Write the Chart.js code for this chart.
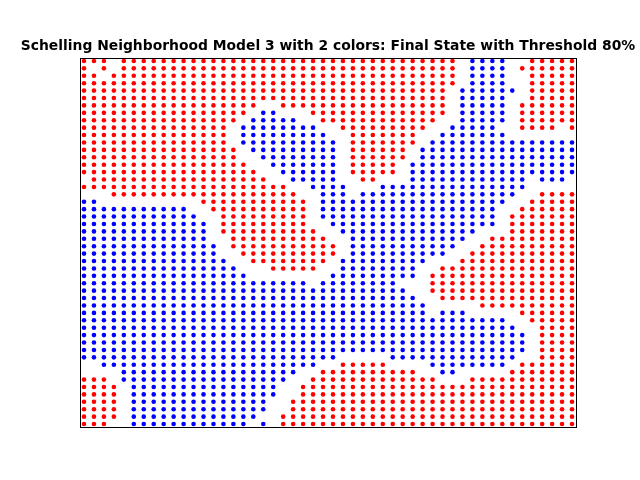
<!DOCTYPE html>
<html>
<head>
<meta charset="utf-8">
<script src="https://cdn.jsdelivr.net/npm/chart.js@4"></script>
<style>
html,body{margin:0;padding:0;background:#fff;}
#wrap{width:640px;height:480px;position:relative;}
</style>
</head>
<body>
<div id="wrap"><canvas id="c" width="640" height="480"></canvas></div>
<script>
// Final grid state, one string per row (top row first), "|" separates column groups 0-16, 17-33, 34-49
// R = red agent, B = blue agent, . = empty
const gridRows = [
"RRR.RRRRRRRRRRRRR|RRRRRRRRRRRRRRRRR|RRRR.BBBB..RRRRR",
"R.R.RRRRRRRRRRRRR|RRRRRRRRRRRRRRRRR|RRRR.BBBB.RRRRRR",
"RR.RRRRRRRRRRRRRR|RRRRRRRRRRRRRRRRR|RRRR.BBBB..RRRRR",
"RRRRRRRRRRRRRRRRR|RRRRRRRRRRRRRRRRR|RRRR.BBBB..RRRRR",
"RRRRRRRRRRRRRRRRR|RRRRRRRRRRRRRRRRR|RRR.BBBBBB.RRRRR",
"RRRRRRRRRRRRRRRRR|RRRRRRRRRRRRRRRRR|RRR.BBBBB..RRRRR",
"RRRRRRRRRRRRRRRRR|R..RRRRRRRRRRRRRR|RRR.BBBBB.RRRRRR",
"RRRRRRRRRRRRRRRRR|.BB...RRRRRRRRRRR|RRR.BBBBB.RRRRRR",
"RRRRRRRRRRRRRRRR.|BBBBB..RRRRRRRRRR|RR..BBBBB.RRRRRR",
"RRRRRRRRRRRRRRR.B|BBBBBBB..RRRRRRRR|R..BBBBB..RRRR.R",
"RRRRRRRRRRRRRRR.B|BBBBBBBB..RRRRRRR|..BBBBBBB.......",
"RRRRRRRRRRRRRRR.B|BBBBBBBBB.RRRRRRR|.BBBBBBBBBBBBBBB",
"RRRRRRRRRRRRRRRR.|BBBBBBBBB.RRRRRR.|BBBBBBBBBBBBBBBB",
"RRRRRRRRRRRRRRRR.|.BBBBBBBB.RRRRRR.|BBBBBBBBBBBBBBBB",
"RRRRRRRRRRRRRRRRR|..BBBBBBB.RRRRR.B|BBBBBBBBBBBBBBBB",
"RRRRRRRRRRRRRRRRR|R..BBBBBB.RRRRR.B|BBBBBBBBBBBBBBBB",
".RRRRRRRRRRRRRRRR|RR..BBBBB..RR...B|BBBBBBBBBBB.BBB.",
"RRRRRRRRRRRRRRRRR|RRRR..BBBB...BBBB|BBBBBBBBBBB.....",
"...RRRRRRRRRRRRRR|RRRRR..BBB.BBBBBB|BBBBBBBBBB..RRRR",
"BB..........RRRRR|RRRRRR.BBBBBBBBBB|BBBBBBBBB..RRRRR",
"BBBBBBBBBBB..RRRR|RRRRRR.BBBBBBBBBB|BBBBBBBB..RRRRRR",
"BBBBBBBBBBBB..RRR|RRRRRR.BBBBBBBBBB|BBBBBBBB.RRRRRRR",
"BBBBBBBBBBBBB.RRR|RRRRRR..BBBBBBBBB|BBBBBBBB.RRRRRRR",
"BBBBBBBBBBBBB.RRR|RRRRRRR..BBBBBBBB|BBBBBB...RRRRRRR",
"BBBBBBBBBBBBB..RR|RRRRRRRR..BBBBBBB|BBBBB..RRRRRRRRR",
"BBBBBBBBBBBBBB.RR|RRRRRRRRR.BBBBBBB|BBBB..RRRRRRRRRR",
"BBBBBBBBBBBBBB..R|RRRRRRRRR.BBBBBBB|BBB..RRRRRRRRRRR",
"BBBBBBBBBBBBBBB..|RRRRRRRR.BBBBBBBB|B...RRRRRRRRRRRR",
"BBBBBBBBBBBBBBBB.|..RRRRR..BBBBBBBB|..RRRRRRRRRRRRRR",
"BBBBBBBBBBBBBBBBB|........BBBBBBBBB|.RRRRRRRRRRRRRRR",
"BBBBBBBBBBBBBBBBB|BBBBBB.BBBBBBBB..|.RRRRRRRRRRRRRRR",
"BBBBBBBBBBBBBBBBB|BBBBBBBBBBBBBBBB.|.RRRRRRRRRRRRRRR",
"BBBBBBBBBBBBBBBBB|BBBBBBBBBBBBBBBBB|..RRRRRRRRRRRRRR",
"BBBBBBBBBBBBBBBBB|BBBBBBBBBBBBBBBBB|B.....RRRRRRRRRR",
"BBBBBBBBBBBBBBBBB|BBBBBBBBBBBBBBBBB|B.BBB.....RRRRRR",
"BBBBBBBBBBBBBBBBB|BBBBBBBBBBBBBBBBB|BBBBBBBBB..RRRRR",
"BBBBBBBBBBBBBBBBB|BBBBBBBBBBBBBBBBB|BBBBBBBBBB..RRRR",
"BBBBBBBBBBBBBBBBB|BBBBBBBBBBBBBBBBB|BBBBBBBBBBB.RRRR",
"BBBBBBBBBBBBBBBBB|BBBBBBBBBBBBBBBBB|BBBBBBBBBBB.RRRR",
"BBBBBBBBBBBBBBBBB|BBBBBBBBBBBBBBBBB|BBBBBBBBBBB.RRRR",
"BBBBBBBBBBBBBBBBB|BBBBBBBBB.....BBB|BBBBBBBBBB..RRRR",
"..BBBBBBBBBBBBBBB|BBBBBBB..RRRRR...|.BBBBBBBB.RRRRRR",
"....BBBBBBBBBBBBB|BBBBB..RRRRRRRRRR|..BB.....RRRRRRR",
"RRR.BBBBBBBBBBBBB|BBBB..RRRRRRRRRRR|RR...RRRRRRRRRRR",
"RRRR.BBBBBBBBBBBB|BBB..RRRRRRRRRRRR|RRRRRRRRRRRRRRRR",
"RRRR.BBBBBBBBBBBB|BBB..RRRRRRRRRRRR|RRRRRRRRRRRRRRRR",
"RRRR.BBBBBBBBBBBB|BB..RRRRRRRRRRRRR|RRRRRRRRRRRRRRRR",
"RRRR.BBBBBBBBBBBB|BB..RRRRRRRRRRRRR|RRRRRRRRRRRRRRRR",
"RRRR.BBBBBBBBBBBB|B..RRRRRRRRRRRRRR|RRRRRRRRRRRRRRRR",
"RRR..BBBBBBBBBBBB|.B.RRRRRRRRRRRRRR|RRRRRRRRRRRRRRRR"
];
const agentCodes = ['R', 'B'];
const agentColors = ['#ff0000', '#0000ff'];
const titleText = 'Schelling Neighborhood Model 3 with 2 colors: Final State with Threshold 80%';
const gridSize = 50;

// Build point lists (x = column index, y = row index from top)
const pointsByAgent = agentCodes.map(() => []);
gridRows.forEach((rowStr, r) => {
  const cells = rowStr.replace(/\|/g, '');
  for (let c = 0; c < cells.length; c++) {
    const k = agentCodes.indexOf(cells[c]);
    if (k >= 0) pointsByAgent[k].push({ x: c, y: r });
  }
});

const titlePlugin = {
  id: 'mplTitle',
  afterDraw(chart) {
    const ctx = chart.ctx, a = chart.chartArea;
    ctx.save();
    ctx.fillStyle = '#000';
    ctx.font = 'bold 13.89px "DejaVu Sans"';
    ctx.textAlign = 'center';
    ctx.textBaseline = 'alphabetic';
    ctx.fillText(titleText, (a.left + a.right) / 2, a.top - 8);
    ctx.restore();
  }
};
const framePlugin = {
  id: 'frame',
  afterDatasetsDraw(chart) {
    const ctx = chart.ctx, a = chart.chartArea;
    ctx.save();
    ctx.strokeStyle = '#000';
    ctx.lineWidth = 1;
    ctx.strokeRect(Math.round(a.left) + 0.5, Math.round(a.top) + 0.5,
                   Math.round(a.right - a.left), Math.round(a.bottom - a.top));
    ctx.restore();
  }
};
const bgPlugin = {
  id: 'bg',
  beforeDraw(chart) {
    const ctx = chart.ctx;
    ctx.save();
    ctx.fillStyle = '#fff';
    ctx.fillRect(0, 0, chart.width, chart.height);
    ctx.restore();
  }
};

new Chart(document.getElementById('c'), {
  type: 'scatter',
  data: {
    datasets: agentCodes.map((code, k) => ({
      label: code,
      data: pointsByAgent[k],
      backgroundColor: agentColors[k],
      borderColor: agentColors[k],
      borderWidth: 0,
      pointRadius: 2.3,
      pointHoverRadius: 2.3
    }))
  },
  options: {
    responsive: false,
    animation: false,
    events: [],
    layout: { padding: { left: 80, right: 64, top: 58, bottom: 53 } },
    plugins: { legend: { display: false }, tooltip: { enabled: false }, title: { display: false } },
    scales: {
      x: { type: 'linear', display: false, min: -0.4, max: gridSize - 1 + 0.4 },
      y: { type: 'linear', display: false, reverse: true, min: -0.4, max: gridSize - 1 + 0.4 }
    }
  },
  plugins: [bgPlugin, titlePlugin, framePlugin]
});
</script>
</body>
</html>
